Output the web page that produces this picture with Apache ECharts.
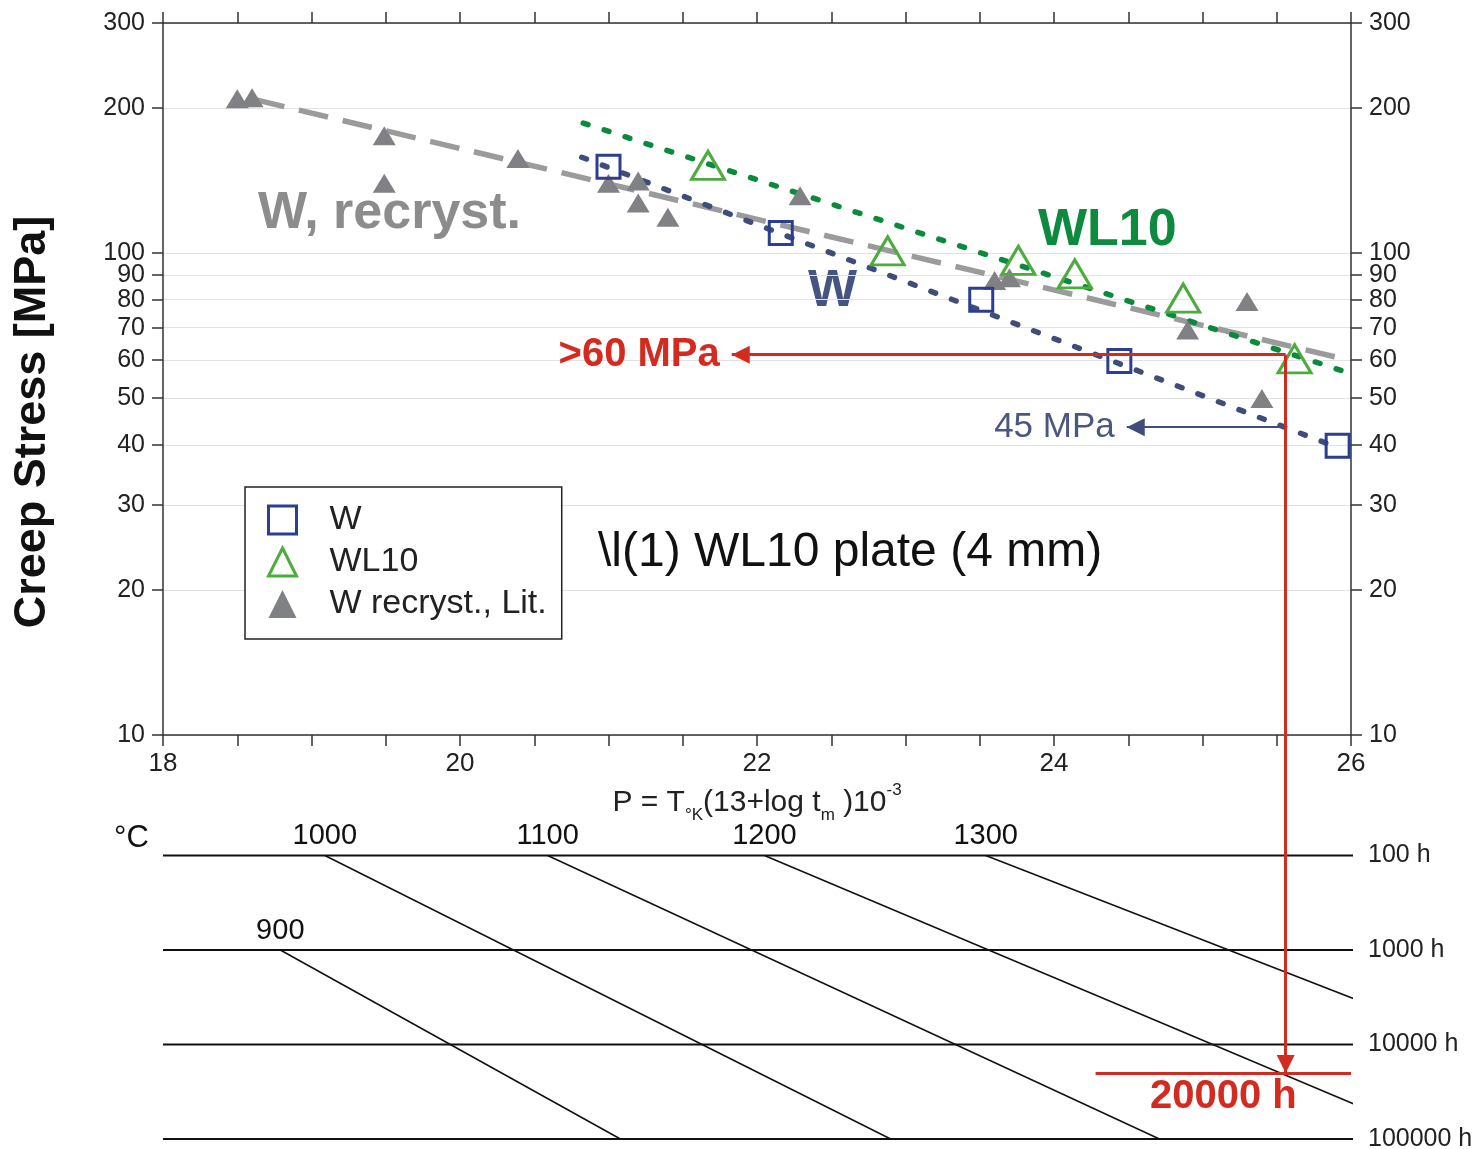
<!DOCTYPE html>
<html>
<head>
<meta charset="utf-8">
<script src="https://cdn.jsdelivr.net/npm/echarts@6/dist/echarts.min.js"></script>
<style>
    html, body { margin: 0; padding: 0; background: #fff; }
    #chart { width: 1479px; height: 1149px; }
</style>
</head>
<body>
<div id="chart"></div>
<script>
    // tick values
    var stressTicks = [10, 20, 30, 40, 50, 60, 70, 80, 90, 100, 200, 300];
    var timeTicks = [100, 1000, 10000, 100000];

    // measured points [P, stress MPa]
    var wPoints = [[21.00, 151], [22.16, 110], [23.51, 80], [24.44, 59.7], [25.91, 39.8]];
    var wl10Points = [[21.67, 152], [22.88, 101], [23.76, 96.5], [24.14, 90.5], [24.87, 80.6], [25.62, 60.3]];
    var recrystPoints = [
        [18.50, 209], [18.60, 210], [19.49, 175], [19.49, 139.5], [20.39, 157],
        [21.00, 139.5], [21.20, 141], [21.20, 127], [21.40, 118.6], [22.29, 131.5],
        [23.60, 87.7], [23.70, 88.8], [24.90, 69.2], [25.30, 79.3], [25.40, 49.9]
    ];

    // fit lines
    var recrystFit = [[18.62, 208], [25.89, 60.9]];
    var wl10Fit = [[20.83, 186], [26.0, 56.2]];
    var wFit = [[20.82, 158], [25.89, 39.7]];

    // read-off example
    var readP = 25.56;
    var readStress = 61.5;
    var readStressW = 43.5;
    var arrowEndP = 21.83;
    var arrowEndPW = 24.49;
    var readHours = 20000;
    var readLineStartP = 24.28;

    // nomogram: temperature lines [P, hours]
    var tempNames = ['900', '1000', '1100', '1200', '1300'];
    var tempLines = [
        [[18.79, 1000], [21.08, 100000]],
        [[19.09, 100], [22.90, 100000]],
        [[20.59, 100], [24.71, 100000]],
        [[22.05, 100], [26.02, 42700]],
        [[23.54, 100], [26.06, 3470]]
    ];
    var timeLineP = [18.0, 26.05];

    var pMin = 18, pMax = 26;
    var nomoTop = 0.725; // log10 hours at top of nomogram grid

    function lg(v) { return Math.log10(v); }
    function toLog(pts) {
        return pts.map(function (p) { return [p[0], lg(p[1])]; });
    }

    var red = '#d42b20';
    var navy = '#3f4d7a';
    var font = 'Liberation Sans, Arial, sans-serif';

    var stressLog = stressTicks.map(lg);
    var timeLog = timeTicks.map(lg);

    function stressAxis(pos) {
        return {
            type: 'value', gridIndex: 0, position: pos,
            min: 1, max: lg(300),
            axisLine: { show: true, lineStyle: { color: '#333', width: 1.5 } },
            axisTick: { show: true, customValues: stressLog, length: 11, lineStyle: { color: '#333', width: 1.5 } },
            axisLabel: {
                customValues: stressLog, margin: 18,
                fontSize: 25, color: '#222', fontFamily: font,
                formatter: function (v) { return Math.round(Math.pow(10, v)); }
            },
            splitLine: { show: pos === 'left', lineStyle: { color: '#e2e2e2', width: 1 } }
        };
    }

    var series = [];

    // fit lines
    series.push({
        name: 'fit recryst', type: 'line', xAxisIndex: 0, yAxisIndex: 0, z: 2,
        data: toLog(recrystFit), showSymbol: false, silent: true,
        lineStyle: { color: '#9b9b9b', width: 5.5, type: [30, 15], cap: 'butt' }
    });
    series.push({
        name: 'fit WL10', type: 'line', xAxisIndex: 0, yAxisIndex: 0, z: 2,
        data: toLog(wl10Fit), showSymbol: false, silent: true,
        lineStyle: { color: '#0b8a3c', width: 5.5, type: [5, 17], cap: 'round' }
    });
    series.push({
        name: 'fit W', type: 'line', xAxisIndex: 0, yAxisIndex: 0, z: 2,
        data: toLog(wFit), showSymbol: false, silent: true,
        lineStyle: { color: navy, width: 5.5, type: [5, 17], cap: 'round' }
    });

    // measured points
    series.push({
        name: 'W recryst., Lit.', type: 'scatter', xAxisIndex: 0, yAxisIndex: 0, z: 3,
        data: toLog(recrystPoints), symbol: 'triangle', symbolSize: [23, 19],
        itemStyle: { color: '#7f8184', opacity: 1 }
    });
    series.push({
        name: 'W', type: 'scatter', xAxisIndex: 0, yAxisIndex: 0, z: 4,
        data: toLog(wPoints), symbol: 'rect', symbolSize: 23,
        itemStyle: { color: 'rgba(255,255,255,0)', borderColor: '#2c3e91', borderWidth: 3, opacity: 1 }
    });
    series.push({
        name: 'WL10', type: 'scatter', xAxisIndex: 0, yAxisIndex: 0, z: 4,
        data: toLog(wl10Points), symbol: 'triangle', symbolSize: [33, 28],
        itemStyle: { color: 'rgba(255,255,255,0)', borderColor: '#4dab3f', borderWidth: 3, opacity: 1 }
    });

    function arrowSeries(name, xi, yi, from, to, color, width, withArrow, label) {
        return {
            name: name, type: 'line', xAxisIndex: xi, yAxisIndex: yi, data: [], z: 5,
            markLine: {
                silent: true, animation: false,
                symbol: ['none', withArrow ? 'triangle' : 'none'],
                symbolSize: 18,
                symbolOffset: [0, [0, '50%']],
                lineStyle: { color: color, width: width, type: 'solid' },
                label: label || { show: false },
                data: [[{ coord: from }, { coord: to }]]
            }
        };
    }

    series.push(arrowSeries('read60', 0, 0, [readP, lg(readStress)], [arrowEndP, lg(readStress)], red, 3, true, {
        show: true, position: 'end', distance: 12, formatter: '>60 MPa',
        color: red, fontSize: 40, fontWeight: 'bold', fontFamily: font
    }));
    series.push(arrowSeries('read45', 0, 0, [readP, lg(readStressW)], [arrowEndPW, lg(readStressW)], navy, 2, true, {
        show: true, position: 'end', distance: 12, formatter: '45 MPa',
        color: '#4a5880', fontSize: 35, fontFamily: font
    }));
    series.push(arrowSeries('readDown1', 0, 0, [readP, lg(readStress)], [readP, 1], red, 3, false));
    series.push(arrowSeries('readDown2', 2, 2, [readP, nomoTop], [readP, lg(readHours)], red, 3, true));
    series.push(arrowSeries('read20000', 2, 2, [readLineStartP, lg(readHours)], [pMax, lg(readHours)], red, 3, false, {
        show: true, position: 'insideMiddleBottom', distance: 4, formatter: '20000 h',
        color: red, fontSize: 40, fontWeight: 'bold', fontFamily: font
    }));

    // nomogram time lines
    timeTicks.forEach(function (t) {
        series.push({
            name: 't' + t, type: 'line', xAxisIndex: 2, yAxisIndex: 2, clip: false, silent: true,
            data: [[timeLineP[0], lg(t)], [timeLineP[1], lg(t)]], showSymbol: false,
            lineStyle: { color: '#111', width: 1.8 }
        });
    });
    // nomogram temperature lines
    tempLines.forEach(function (ln, i) {
        series.push({
            name: 'T' + tempNames[i], type: 'line', xAxisIndex: 2, yAxisIndex: 2, clip: false, silent: true,
            data: [
                {
                    value: [ln[0][0], lg(ln[0][1])],
                    label: {
                        show: true, position: 'top', distance: 4, formatter: tempNames[i],
                        fontSize: 29, color: '#111', fontFamily: font
                    }
                },
                { value: [ln[1][0], lg(ln[1][1])] }
            ],
            showSymbol: true, symbol: 'circle', symbolSize: 1,
            itemStyle: { color: 'rgba(0,0,0,0)' },
            lineStyle: { color: '#111', width: 1.5 }
        });
    });

    var chart = echarts.init(document.getElementById('chart'));
    chart.setOption({
        animation: false,
        backgroundColor: '#fff',
        textStyle: { fontFamily: font },
        grid: [
            { left: 163, right: 128, top: 23, bottom: 414, outerBoundsMode: 'none' },
            { left: 163, right: 128, top: 735, bottom: 10, outerBoundsMode: 'none' }
        ],
        legend: {
            data: [
                { name: 'W', itemStyle: { borderWidth: 3 } },
                { name: 'WL10', itemStyle: { borderWidth: 3 } },
                { name: 'W recryst., Lit.' }
            ],
            orient: 'vertical', left: 245, top: 487,
            padding: [16, 15, 18, 22],
            borderColor: '#222', borderWidth: 1.5, backgroundColor: '#fff',
            itemWidth: 28, itemHeight: 28, itemGap: 8,
            selectedMode: false,
            textStyle: { fontSize: 34, lineHeight: 34, color: '#222', fontFamily: font, padding: [0, 0, 0, 28] }
        },
        xAxis: [
            {
                type: 'value', gridIndex: 0, position: 'bottom', min: pMin, max: pMax, interval: 0.5,
                axisLine: { lineStyle: { color: '#333', width: 1.5 } },
                axisTick: { length: 11, lineStyle: { color: '#333', width: 1.5 } },
                axisLabel: {
                    margin: 16, fontSize: 26, color: '#222', fontFamily: font,
                    formatter: function (v) { return v % 2 === 0 ? String(v) : ''; }
                },
                splitLine: { show: false },
                name: '{m|P = T}{sub|°K}{m|(13+log t}{sub|m}{m| )10}{sup|-3}',
                nameLocation: 'middle', nameGap: 36,
                nameTextStyle: {
                    rich: {
                        m: { fontSize: 30, lineHeight: 42, color: '#222', fontFamily: font, verticalAlign: 'middle' },
                        sub: { fontSize: 17, lineHeight: 17, color: '#222', fontFamily: font, verticalAlign: 'bottom' },
                        sup: { fontSize: 17, lineHeight: 17, color: '#222', fontFamily: font, verticalAlign: 'top' }
                    }
                }
            },
            {
                type: 'value', gridIndex: 0, position: 'top', min: pMin, max: pMax, interval: 0.5,
                axisLine: { lineStyle: { color: '#333', width: 1.5 } },
                axisTick: { length: 11, lineStyle: { color: '#333', width: 1.5 } },
                axisLabel: { show: false },
                splitLine: { show: false }
            },
            { type: 'value', gridIndex: 1, min: pMin, max: pMax, show: false }
        ],
        yAxis: [
            stressAxis('left'),
            stressAxis('right'),
            {
                type: 'value', gridIndex: 1, position: 'right', min: nomoTop, max: 5, inverse: true,
                axisLine: { show: false }, axisTick: { show: false }, splitLine: { show: false },
                axisLabel: {
                    customValues: timeLog, margin: 17, fontSize: 25, color: '#222', fontFamily: font,
                    formatter: function (v) { return Math.round(Math.pow(10, v)) + ' h'; }
                }
            }
        ],
        graphic: [
            {
                type: 'text', x: 33, y: 422, rotation: Math.PI / 2,
                style: { text: 'Creep Stress [MPa]', fontSize: 45, fontWeight: 'bold', fill: '#111',
                    fontFamily: font, align: 'center', verticalAlign: 'middle' }
            },
            {
                type: 'text', x: 258, y: 214,
                style: { text: 'W, recryst.', fontSize: 52, fontWeight: 'bold', fill: '#8c8c8c',
                    fontFamily: font, verticalAlign: 'middle' }
            },
            {
                type: 'text', x: 1038, y: 231,
                style: { text: 'WL10', fontSize: 52, fontWeight: 'bold', fill: '#0d8a3d',
                    fontFamily: font, verticalAlign: 'middle' }
            },
            {
                type: 'text', x: 808, y: 292,
                style: { text: 'W', fontSize: 52, fontWeight: 'bold', fill: '#46557f',
                    fontFamily: font, verticalAlign: 'middle' }
            },
            {
                type: 'text', x: 598, y: 553,
                style: { text: '\\l(1) WL10 plate (4 mm)', fontSize: 48, fill: '#111',
                    fontFamily: font, verticalAlign: 'middle' }
            },
            {
                type: 'text', x: 114, y: 838,
                style: { text: '°C', fontSize: 31, fill: '#111', fontFamily: font, verticalAlign: 'middle' }
            }
        ],
        series: series
    });
</script>
</body>
</html>
